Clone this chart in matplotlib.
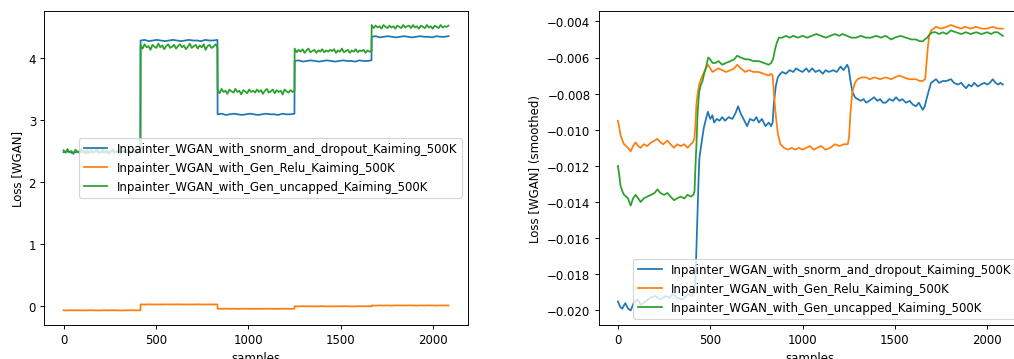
import matplotlib
matplotlib.use('Agg')
import matplotlib.pyplot as plt
import numpy as np

names = ['Inpainter_WGAN_with_snorm_and_dropout_Kaiming_500K',
         'Inpainter_WGAN_with_Gen_Relu_Kaiming_500K',
         'Inpainter_WGAN_with_Gen_uncapped_Kaiming_500K']

# raw loss, 5 training stages of 417 samples
seg_starts = [0, 417, 834, 1251, 1668]
seg_len = 416

# 20 readings per stage
raw_snorm = [2.48, 2.49, 2.47, 2.48, 2.49, 2.48, 2.47, 2.48, 2.49, 2.48, 2.48, 2.47, 2.49, 2.48, 2.48, 2.49, 2.47, 2.48, 2.48, 2.49,
             4.28, 4.29, 4.27, 4.28, 4.29, 4.28, 4.27, 4.28, 4.29, 4.28, 4.27, 4.28, 4.29, 4.28, 4.28, 4.27, 4.29, 4.28, 4.28, 4.29,
             3.09, 3.10, 3.08, 3.09, 3.10, 3.09, 3.08, 3.09, 3.10, 3.09, 3.08, 3.09, 3.10, 3.09, 3.09, 3.08, 3.10, 3.09, 3.09, 3.10,
             3.95, 3.96, 3.94, 3.95, 3.96, 3.95, 3.94, 3.95, 3.96, 3.95, 3.94, 3.95, 3.96, 3.95, 3.95, 3.94, 3.96, 3.95, 3.95, 3.96,
             4.34, 4.35, 4.33, 4.34, 4.35, 4.34, 4.33, 4.34, 4.35, 4.34, 4.33, 4.34, 4.35, 4.34, 4.34, 4.33, 4.35, 4.34, 4.34, 4.35]
raw_relu = [-0.070, -0.072, -0.069, -0.071, -0.070, -0.072, -0.070, -0.069, -0.071, -0.072, -0.070, -0.071, -0.069, -0.070, -0.072, -0.071, -0.070, -0.069, -0.071, -0.070,
            0.025, 0.023, 0.026, 0.024, 0.025, 0.023, 0.026, 0.025, 0.024, 0.026, 0.025, 0.023, 0.025, 0.024, 0.026, 0.025, 0.023, 0.025, 0.024, 0.025,
            -0.045, -0.047, -0.044, -0.046, -0.045, -0.047, -0.045, -0.044, -0.046, -0.047, -0.045, -0.046, -0.044, -0.045, -0.047, -0.046, -0.045, -0.044, -0.046, -0.045,
            -0.005, -0.007, -0.004, -0.006, -0.005, -0.007, -0.005, -0.004, -0.006, -0.007, -0.005, -0.006, -0.004, -0.005, -0.007, -0.006, -0.005, -0.004, -0.006, -0.005,
            0.008, 0.006, 0.009, 0.007, 0.008, 0.006, 0.009, 0.008, 0.007, 0.009, 0.008, 0.006, 0.008, 0.007, 0.009, 0.008, 0.006, 0.008, 0.007, 0.008]

# 40 readings per stage (noisier series)
raw_uncapped = [2.51, 2.47, 2.53, 2.48, 2.50, 2.45, 2.52, 2.49, 2.47, 2.53, 2.50, 2.46, 2.51, 2.48, 2.52, 2.47, 2.50, 2.53, 2.46, 2.49,
                2.52, 2.48, 2.51, 2.45, 2.50, 2.53, 2.47, 2.49, 2.52, 2.46, 2.51, 2.48, 2.50, 2.53, 2.47, 2.49, 2.52, 2.46, 2.50, 2.51,
                4.20, 4.15, 4.22, 4.17, 4.19, 4.13, 4.21, 4.18, 4.16, 4.23, 4.17, 4.20, 4.14, 4.19, 4.22, 4.16, 4.18, 4.21, 4.15, 4.19,
                4.22, 4.17, 4.20, 4.14, 4.18, 4.23, 4.16, 4.19, 4.21, 4.15, 4.20, 4.17, 4.22, 4.13, 4.19, 4.21, 4.16, 4.18, 4.22, 4.17,
                3.48, 3.43, 3.50, 3.45, 3.47, 3.42, 3.49, 3.46, 3.44, 3.50, 3.45, 3.47, 3.41, 3.48, 3.46, 3.43, 3.49, 3.45, 3.47, 3.44,
                3.49, 3.45, 3.48, 3.42, 3.47, 3.50, 3.44, 3.46, 3.49, 3.43, 3.48, 3.45, 3.47, 3.41, 3.49, 3.46, 3.44, 3.48, 3.45, 3.47,
                4.15, 4.09, 4.13, 4.10, 4.14, 4.08, 4.12, 4.15, 4.09, 4.11, 4.13, 4.08, 4.12, 4.10, 4.14, 4.09, 4.12, 4.10, 4.13, 4.11,
                4.14, 4.08, 4.12, 4.10, 4.15, 4.09, 4.11, 4.13, 4.08, 4.12, 4.10, 4.14, 4.09, 4.12, 4.11, 4.13, 4.08, 4.12, 4.10, 4.11,
                4.53, 4.48, 4.52, 4.49, 4.51, 4.47, 4.53, 4.50, 4.48, 4.52, 4.49, 4.51, 4.47, 4.52, 4.50, 4.48, 4.53, 4.49, 4.51, 4.52,
                4.48, 4.53, 4.49, 4.51, 4.47, 4.52, 4.50, 4.48, 4.53, 4.49, 4.51, 4.47, 4.52, 4.50, 4.48, 4.53, 4.49, 4.51, 4.50, 4.52]

# smoothed loss, read at irregular sample positions
sm_snorm_x = [0, 12, 23, 40, 55, 69, 85, 105, 125, 150, 175, 203, 230, 258, 280, 295, 320, 350, 380, 400,
              412, 418, 424, 430, 436, 441, 452, 465, 477, 487, 500, 512, 521, 535, 550, 565, 580, 600, 620, 636,
              651, 665, 680, 700, 715, 736, 750, 763, 780, 799, 817, 830, 838, 845, 855, 866, 880, 890, 910, 930,
              950, 965, 980, 1000, 1020, 1035, 1052, 1070, 1090, 1110, 1125, 1143, 1165, 1185, 1206, 1222, 1242, 1250, 1258, 1270,
              1284, 1298, 1315, 1330, 1345, 1361, 1375, 1388, 1405, 1420, 1435, 1451, 1470, 1490, 1506, 1525, 1540, 1560, 1580, 1597,
              1614, 1630, 1651, 1662, 1669, 1682, 1696, 1710, 1723, 1740, 1760, 1780, 1804, 1820, 1841, 1860, 1875, 1886, 1900, 1915,
              1930, 1949, 1965, 1985, 2000, 2015, 2030, 2045, 2060, 2072, 2085]
sm_snorm = [-0.0195, -0.0198, -0.0199, -0.0196, -0.0199, -0.0200, -0.0196, -0.0194, -0.0197, -0.0195, -0.0193, -0.0192, -0.0194, -0.0192, -0.0193, -0.0191, -0.0193, -0.0194, -0.0191, -0.0192,
            -0.0190, -0.0185, -0.0170, -0.0150, -0.0130, -0.0116, -0.0108, -0.0099, -0.0094, -0.0090, -0.0094, -0.0092, -0.0096, -0.0094, -0.0095, -0.0093, -0.0095, -0.0093, -0.0094, -0.0091,
            -0.0087, -0.0091, -0.0094, -0.0098, -0.0094, -0.0095, -0.0093, -0.0096, -0.0094, -0.0098, -0.0096, -0.0098, -0.0096, -0.0085, -0.0076, -0.0071, -0.0069, -0.0068, -0.0069, -0.0067,
            -0.0068, -0.0066, -0.0067, -0.0068, -0.0066, -0.0068, -0.0066, -0.0068, -0.0067, -0.0069, -0.0067, -0.0068, -0.0067, -0.0068, -0.0065, -0.0067, -0.0064, -0.0066, -0.0072, -0.0079,
            -0.0082, -0.0083, -0.0084, -0.0083, -0.0085, -0.0084, -0.0083, -0.0082, -0.0084, -0.0083, -0.0085, -0.0085, -0.0083, -0.0084, -0.0082, -0.0084, -0.0083, -0.0085, -0.0084, -0.0086,
            -0.0087, -0.0085, -0.0089, -0.0087, -0.0084, -0.0079, -0.0074, -0.0073, -0.0072, -0.0074, -0.0073, -0.0073, -0.0072, -0.0074, -0.0075, -0.0074, -0.0076, -0.0077, -0.0075, -0.0076,
            -0.0074, -0.0076, -0.0075, -0.0074, -0.0075, -0.0074, -0.0072, -0.0074, -0.0075, -0.0074, -0.0075]

sm_relu_x = [0, 8, 14, 25, 33, 45, 55, 69, 82, 96, 110, 123, 140, 159, 180, 198, 214, 230, 245, 268,
             285, 304, 320, 340, 360, 377, 395, 406, 414, 420, 425, 432, 440, 450, 458, 467, 476, 489, 500, 512,
             528, 545, 565, 585, 610, 630, 646, 665, 690, 709, 735, 763, 790, 817, 830, 838, 845, 855, 866, 880,
             900, 920, 942, 960, 980, 1000, 1020, 1040, 1060, 1080, 1100, 1125, 1150, 1175, 1200, 1225, 1245, 1252, 1260, 1270,
             1284, 1298, 1320, 1343, 1365, 1390, 1420, 1450, 1480, 1500, 1524, 1550, 1575, 1600, 1614, 1635, 1651, 1664, 1670, 1678,
             1686, 1696, 1710, 1723, 1750, 1780, 1804, 1830, 1859, 1880, 1910, 1940, 1970, 2000, 2030, 2057, 2085]
sm_relu = [-0.0095, -0.0099, -0.0103, -0.0106, -0.0108, -0.0109, -0.0110, -0.0112, -0.0109, -0.0107, -0.0109, -0.0110, -0.0108, -0.0109, -0.0107, -0.0106, -0.0105, -0.0107, -0.0108, -0.0106,
           -0.0108, -0.0110, -0.0108, -0.0109, -0.0108, -0.0110, -0.0108, -0.0107, -0.0105, -0.0097, -0.0086, -0.0080, -0.0075, -0.0072, -0.0070, -0.0068, -0.0066, -0.0064, -0.0066, -0.0068,
           -0.0067, -0.0066, -0.0067, -0.0068, -0.0067, -0.0066, -0.0064, -0.0066, -0.0068, -0.0067, -0.0068, -0.0068, -0.0069, -0.0070, -0.0069, -0.0070, -0.0080, -0.0092, -0.0102, -0.0108,
           -0.0110, -0.0111, -0.0110, -0.0111, -0.0110, -0.0111, -0.0110, -0.0109, -0.0111, -0.0110, -0.0109, -0.0111, -0.0110, -0.0108, -0.0109, -0.0108, -0.0108, -0.0104, -0.0090, -0.0079,
           -0.0074, -0.0072, -0.0071, -0.0071, -0.0072, -0.0071, -0.0072, -0.0071, -0.0072, -0.0071, -0.0070, -0.0071, -0.0072, -0.0072, -0.0072, -0.0073, -0.0073, -0.0072, -0.0065, -0.0055,
           -0.0048, -0.0045, -0.0044, -0.0043, -0.0044, -0.0043, -0.0042, -0.0043, -0.0044, -0.0043, -0.0044, -0.0043, -0.0044, -0.0044, -0.0043, -0.0044, -0.0044]

sm_uncapped_x = [0, 7, 14, 24, 33, 45, 55, 69, 82, 96, 110, 123, 140, 159, 180, 198, 214, 230, 250, 268,
                 285, 304, 320, 340, 360, 377, 395, 409, 415, 420, 425, 432, 440, 450, 458, 467, 476, 489, 500, 512,
                 528, 545, 565, 585, 610, 630, 646, 665, 690, 709, 735, 763, 790, 817, 830, 840, 850, 860, 872, 890,
                 910, 930, 950, 975, 1000, 1025, 1050, 1075, 1100, 1125, 1150, 1175, 1200, 1216, 1240, 1265, 1290, 1315, 1343, 1370,
                 1400, 1425, 1450, 1480, 1500, 1530, 1560, 1590, 1614, 1635, 1651, 1662, 1675, 1690, 1705, 1720, 1740, 1760, 1780, 1804,
                 1830, 1859, 1885, 1910, 1940, 1970, 2000, 2021, 2040, 2057, 2070, 2085]
sm_uncapped = [-0.0120, -0.0125, -0.0131, -0.0134, -0.0136, -0.0137, -0.0138, -0.0142, -0.0138, -0.0136, -0.0138, -0.0140, -0.0138, -0.0137, -0.0136, -0.0135, -0.0133, -0.0135, -0.0136, -0.0135,
               -0.0137, -0.0139, -0.0138, -0.0137, -0.0138, -0.0136, -0.0137, -0.0136, -0.0134, -0.0120, -0.0109, -0.0090, -0.0079, -0.0075, -0.0073, -0.0069, -0.0066, -0.0060, -0.0061, -0.0063,
               -0.0063, -0.0062, -0.0064, -0.0063, -0.0062, -0.0061, -0.0059, -0.0060, -0.0061, -0.0061, -0.0062, -0.0062, -0.0063, -0.0064, -0.0063, -0.0061, -0.0056, -0.0052, -0.0049, -0.0049,
               -0.0048, -0.0049, -0.0048, -0.0049, -0.0048, -0.0049, -0.0048, -0.0047, -0.0048, -0.0049, -0.0048, -0.0047, -0.0048, -0.0047, -0.0048, -0.0049, -0.0049, -0.0048, -0.0049, -0.0049,
               -0.0048, -0.0049, -0.0048, -0.0050, -0.0049, -0.0048, -0.0049, -0.0050, -0.0050, -0.0051, -0.0051, -0.0050, -0.0049, -0.0047, -0.0046, -0.0046, -0.0047, -0.0046, -0.0047, -0.0045,
               -0.0046, -0.0047, -0.0046, -0.0047, -0.0046, -0.0047, -0.0046, -0.0047, -0.0046, -0.0046, -0.0047, -0.0048]

raw_x20 = np.concatenate([s + np.linspace(0, seg_len, 20) for s in seg_starts])
raw_x40 = np.concatenate([s + np.linspace(0, seg_len, 40) for s in seg_starts])

# original was a 1200 px wide figure shown scaled down
fig = plt.figure(figsize=(12, 4.26), dpi=84.5)
ax1 = fig.add_axes([0.0437, 0.0953, 0.4176, 0.8722])
ax2 = fig.add_axes([0.5904, 0.0953, 0.4176, 0.8722])

ax1.plot(raw_x20, raw_snorm, label=names[0])
ax1.plot(raw_x20, raw_relu, label=names[1])
ax1.plot(raw_x40, raw_uncapped, label=names[2])
ax1.set_xlabel('samples')
ax1.set_ylabel('Loss [WGAN]')
ax1.legend(loc='center right')

ax2.plot(sm_snorm_x, sm_snorm, label=names[0])
ax2.plot(sm_relu_x, sm_relu, label=names[1])
ax2.plot(sm_uncapped_x, sm_uncapped, label=names[2])
ax2.set_xlabel('samples')
ax2.set_ylabel('Loss [WGAN] (smoothed)')
ax2.legend(loc='lower right')

fig.savefig('out.png', dpi=84.5)
